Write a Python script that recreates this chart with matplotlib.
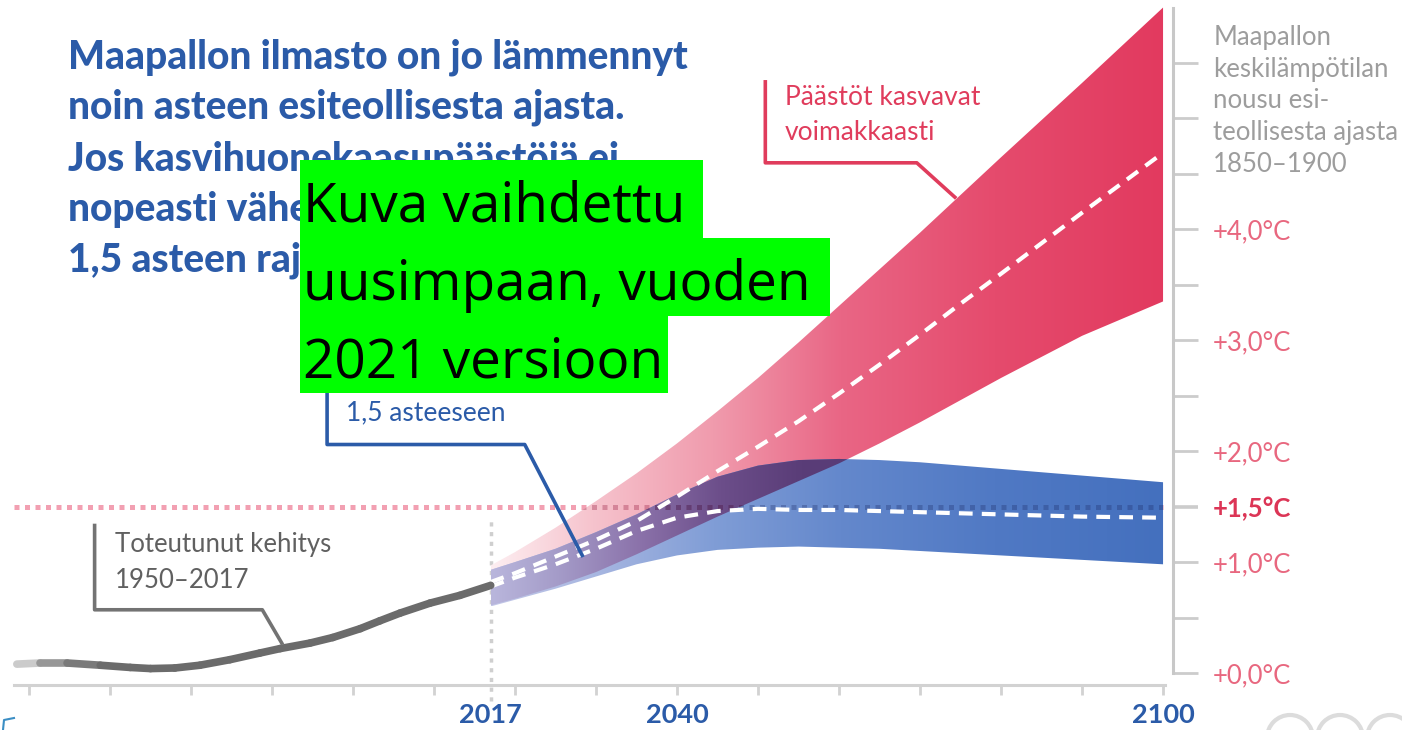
import numpy as np
import matplotlib.pyplot as plt
from matplotlib.colors import LinearSegmentedColormap, to_rgb
from matplotlib.collections import LineCollection
from matplotlib.lines import Line2D
from matplotlib.patches import Rectangle, Ellipse

plt.rcParams['font.family'] = ['Lato', 'DejaVu Sans']

# observed warming (deg C above 1850-1900)
hist_years = [1958.5, 1961.4, 1964.7, 1968.8, 1972.5, 1975.0, 1978.0, 1981.1, 1984.8, 1988.5,
              1991.0, 1994.7, 1997.5, 2000.9, 2003.3, 2005.8, 2009.5, 2013.2, 2017.0]
hist_temp = [0.08, 0.09, 0.09, 0.07, 0.05, 0.04, 0.045, 0.07, 0.12, 0.18,
             0.22, 0.27, 0.32, 0.40, 0.47, 0.54, 0.63, 0.70, 0.79]

# scenarios 2017-2100
proj_years = [2017, 2020, 2025, 2030, 2035, 2040, 2045, 2050, 2055, 2060, 2065, 2070, 2075, 2080, 2090, 2100]
high_hi = [0.97, 1.09, 1.31, 1.55, 1.80, 2.07, 2.36, 2.66, 2.98, 3.31, 3.64, 3.97, 4.31, 4.65, 5.32, 6.00]
high_mid = [0.82, 0.90, 1.05, 1.20, 1.37, 1.59, 1.82, 2.04, 2.27, 2.52, 2.78, 3.05, 3.33, 3.60, 4.15, 4.69]
high_lo = [0.61, 0.67, 0.78, 0.91, 1.07, 1.24, 1.41, 1.57, 1.73, 1.89, 2.07, 2.26, 2.46, 2.66, 3.04, 3.35]
low_hi = [0.93, 1.00, 1.12, 1.27, 1.43, 1.61, 1.77, 1.87, 1.92, 1.93, 1.92, 1.90, 1.87, 1.84, 1.78, 1.72]
low_mid = [0.78, 0.86, 0.98, 1.12, 1.28, 1.40, 1.46, 1.48, 1.47, 1.47, 1.46, 1.45, 1.44, 1.43, 1.41, 1.40]
low_lo = [0.60, 0.66, 0.76, 0.87, 0.98, 1.06, 1.11, 1.13, 1.14, 1.13, 1.12, 1.10, 1.08, 1.06, 1.02, 0.98]

x_ticks = list(range(1960, 2101, 10))
x_labels = {2040: '2040', 2100: '2100'}
y_ticks = [0, 1, 1.5, 2, 3, 4]
y_labels = ['+0,0°C', '+1,0°C', '+1,5°C', '+2,0°C', '+3,0°C', '+4,0°C']
y_minor = [0.5, 2.5, 3.5, 4.5, 5, 5.5]
limit = 1.5

title = ('Maapallon ilmasto on jo lämmennyt\n'
         'noin asteen esiteollisesta ajasta.\n'
         'Jos kasvihuonekaasupäästöjä ei\n'
         'nopeasti vähennetä, ylitetään\n'
         '1,5 asteen raja jo 2040-luvulla.')
axis_title = 'Maapallon\nkeskilämpötilan\nnousu esi-\nteollisesta ajasta\n1850–1900'

BLUE = '#2b5ba8'
RED = '#e03c5c'

fig = plt.figure(figsize=(14.02, 7.30), dpi=100)
ax = fig.add_axes([0, 0, 1, 1])

yrs = np.array(proj_years)
hh, hm, hl = np.array(high_hi), np.array(high_mid), np.array(high_lo)
lh, lm, ll = np.array(low_hi), np.array(low_mid), np.array(low_lo)


def gradient_band(lo, hi, stops, z, where=None):
    poly = ax.fill_between(yrs, lo, hi, where=where, interpolate=True,
                           facecolor='none', edgecolor='none')
    cmap = LinearSegmentedColormap.from_list('g', stops)
    im = ax.imshow(np.linspace(0, 1, 256).reshape(1, -1), cmap=cmap,
                   extent=[yrs[0], yrs[-1], min(lo.min(), hi.min()), max(lo.max(), hi.max())],
                   aspect='auto', origin='lower', zorder=z, interpolation='bicubic')
    path = poly.get_paths()[0]
    im.set_clip_path(path, transform=ax.transData)
    return path


red_stops = [(0, '#fdeef1'), (0.15, '#f6c3cd'), (0.33, '#f09bad'),
             (0.52, '#e96685'), (0.75, '#e54b6d'), (1, '#e23a5f')]
blue_stops = [(0, '#c4c8e8'), (0.15, '#a8b7e1'), (0.33, '#809dd6'),
              (0.52, '#6488cc'), (0.75, '#5079c4'), (1, '#4470be')]
mix_stops = [(0, '#b9b6dc'), (0.1, '#a49bc8'), (0.22, '#8b72aa'),
             (0.34, '#6c4e8a'), (0.46, '#5a3d78'), (1, '#4f3570')]

red_path = gradient_band(hl, hh, red_stops, 2)
blue_path = gradient_band(ll, lh, blue_stops, 3)
ov_lo = np.maximum(hl, ll)
ov_hi = np.minimum(hh, lh)
gradient_band(ov_lo, ov_hi, mix_stops, 4, where=ov_hi >= ov_lo)

# 1.5 degree reference line
xr = [1958.2, 2100]
ax.plot(xr, [limit, limit], color='#f2a0b2', lw=3.6, ls=(0, (1, 1.1)), zorder=1)
l1, = ax.plot(xr, [limit, limit], color='#9c2045', alpha=0.35, lw=3.6, ls=(0, (1, 1.1)), zorder=5)
l1.set_clip_path(red_path, transform=ax.transData)
l2, = ax.plot(xr, [limit, limit], color='#1c2a66', alpha=0.3, lw=3.6, ls=(0, (1, 1.1)), zorder=5)
l2.set_clip_path(blue_path, transform=ax.transData)

# medians
ax.plot(yrs, hm, color='white', lw=3, ls=(0, (3.3, 2.2)), zorder=6)
ax.plot(yrs, lm, color='white', lw=3, ls=(0, (3.3, 2.2)), zorder=6)

# 2017 marker
ax.plot([2017, 2017], [-0.25, 1.38], color='#cfcfcf', lw=2.5, ls=(0, (1.2, 1.6)), zorder=1)

# history, fading in at the left end
pts = np.column_stack([hist_years, hist_temp])
segs = np.stack([pts[:-1], pts[1:]], axis=1)
fade = np.ones(len(segs))
fade[:3] = [0.35, 0.7, 0.9]
base = np.array(to_rgb('#6b6b6b'))
seg_cols = [tuple(1 - f * (1 - base)) for f in fade]
ax.add_collection(LineCollection(segs, colors=seg_cols, linewidths=5.5,
                                 capstyle='round', joinstyle='round', zorder=6))

# callouts
ax.plot([2050.9, 2050.9, 2069.6, 2074.3], [5.33, 4.60, 4.60, 4.29], color=RED, lw=2.6, zorder=7)
ax.text(2053.3, 5.03, 'Päästöt kasvavat\nvoimakkaasti', color=RED, fontsize=19,
        va='center', ha='left', linespacing=1.52, zorder=7)
ax.plot([1996.8, 1996.8, 2021.2, 2028.3], [3.1, 2.06, 2.06, 1.06], color=BLUE, lw=2.6, zorder=7)
ax.text(1999.1, 2.35, '1,5 asteeseen', color=BLUE, fontsize=19, va='center', ha='left', zorder=7)
ax.plot([1968.1, 1968.1, 1988.8, 1991.2], [1.33, 0.57, 0.57, 0.27], color='#737373', lw=2.6, zorder=7)
ax.text(1970.6, 0.995, 'Toteutunut kehitys\n1950–2017', color='#606060', fontsize=18.5,
        va='center', ha='left', linespacing=1.55, zorder=7)

# axes
ax.set_xlim(1956.42, 2129.5)
ax.set_ylim(-0.514, 6.068)
for s in ['left', 'top']:
    ax.spines[s].set_visible(False)
ax.spines['bottom'].set_position(('data', -0.108))
ax.spines['bottom'].set_bounds(1958.2, 2100.2)
ax.spines['bottom'].set_color('#d2d2d2')
ax.spines['bottom'].set_linewidth(2.2)
ax.spines['right'].set_position(('data', 2101.2))
ax.spines['right'].set_bounds(0, 6.0)
ax.spines['right'].set_color('#c8c8c8')
ax.spines['right'].set_linewidth(2.2)

ax.set_xticks(x_ticks)
ax.set_xticklabels([x_labels.get(t, '') for t in x_ticks])
ax.set_xticks([2017], minor=True)
ax.set_xticklabels(['2017'], minor=True)
ax.tick_params(axis='x', which='major', direction='out', length=7, width=2,
               color='#d2d2d2', pad=6, labelsize=19.5, labelcolor=BLUE)
ax.tick_params(axis='x', which='minor', length=0, pad=13, labelsize=19.5, labelcolor=BLUE)
for lab in ax.get_xticklabels(which='both'):
    lab.set_fontweight('bold')

ax.yaxis.tick_right()
ax.set_yticks(y_ticks)
ax.set_yticklabels(y_labels)
ax.set_yticks(y_minor, minor=True)
ax.tick_params(axis='y', which='both', direction='out', length=18, width=2,
               color='#cccccc', pad=11, labelsize=18.5, labelcolor='#e8677f')
t15 = ax.yaxis.get_major_ticks()[2]
t15.tick2line.set_color(RED)
t15.tick2line.set_markeredgewidth(2.6)
t15.label2.set_fontweight('bold')
t15.label2.set_color('#dc3556')

ax.text(2106.2, 5.84, axis_title, color='#9d9d9d', fontsize=18.5, va='top', ha='left',
        linespacing=1.33)

fig.text(68 / 1402, 1 - 38 / 730, title, color=BLUE, fontsize=28, fontweight='black',
         va='top', ha='left', linespacing=1.45)

# notice boxes
box_rows = [('Kuva vaihdettu', 160, 403), ('uusimpaan, vuoden', 238, 530), ('2021 versioon', 315, 368)]
for txt, top, w in box_rows:
    fig.patches.append(Rectangle((300 / 1402, 1 - (top + 78) / 730), w / 1402, 78 / 730,
                                 transform=fig.transFigure, facecolor='#00ff00',
                                 edgecolor='none', zorder=10))
    fig.text(303 / 1402, 1 - (top + 62) / 730, txt, color='black', fontsize=39.5,
             family=['Open Sans', 'DejaVu Sans'], va='baseline', ha='left', zorder=11)

# cropped logo fragments at the bottom edge
for cx in [1290, 1340, 1390]:
    fig.patches.append(Ellipse((cx / 1402, -8 / 730), 46 / 1402, 46 / 730, transform=fig.transFigure,
                               fill=False, edgecolor='#dcdcdc', lw=3))
fig.add_artist(Line2D([3 / 1402, 4 / 1402, 14 / 1402], [0, 10 / 730, 12 / 730],
                      transform=fig.transFigure, color='#3b8ec4', lw=1.5))

fig.savefig('out.png', dpi=100)
